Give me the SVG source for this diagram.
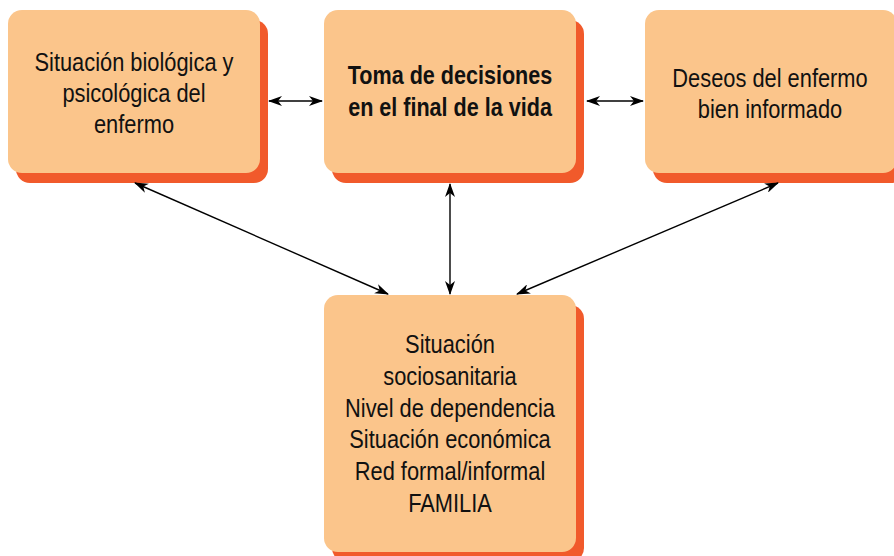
<svg xmlns="http://www.w3.org/2000/svg" width="894" height="556" viewBox="0 0 894 556">
<style>
.box{fill:#FBC58B}
.sh{fill:#F15A2B}
.t{font-family:"Liberation Sans",Arial,sans-serif;font-size:26px;fill:#111;text-anchor:middle}
.b{font-weight:bold}
.c{stroke:#000;stroke-width:1.4;fill:none;marker-start:url(#ah);marker-end:url(#ah)}
</style>
<defs>
<marker id="ah" viewBox="0 0 14 10" refX="13" refY="5" markerWidth="14" markerHeight="10" markerUnits="userSpaceOnUse" orient="auto-start-reverse">
<path d="M0,0 L14,5 L0,10 L4,5 Z" fill="#000"/>
</marker>
</defs>
<rect width="894" height="556" fill="#fff"/>
<g id="node-bio">
<rect class="sh" x="16" y="20" width="252" height="163" rx="14"/>
<rect class="box" x="8" y="10" width="252" height="163" rx="14"/>
<g transform="translate(134,0) scale(0.84,1)">
<text class="t" x="0" y="71">Situación biológica y</text>
<text class="t" x="0" y="102">psicológica del</text>
<text class="t" x="0" y="133">enfermo</text>
</g>
</g>
<g id="node-toma">
<rect class="sh" x="332" y="20" width="252" height="163" rx="14"/>
<rect class="box" x="324" y="10" width="252" height="163" rx="14"/>
<g transform="translate(450,0) scale(0.83,1)">
<text class="t b" x="0" y="84">Toma de decisiones</text>
<text class="t b" x="0" y="116">en el final de la vida</text>
</g>
</g>
<g id="node-deseos">
<rect class="sh" x="653" y="20" width="252" height="163" rx="14"/>
<rect class="box" x="645" y="10" width="252" height="163" rx="14"/>
<g transform="translate(770,0) scale(0.84,1)">
<text class="t" x="0" y="87">Deseos del enfermo</text>
<text class="t" x="0" y="118">bien informado</text>
</g>
</g>
<g id="node-socio">
<rect class="sh" x="332" y="305" width="252" height="257" rx="14"/>
<rect class="box" x="324" y="295" width="252" height="257" rx="14"/>
<g transform="translate(450,0) scale(0.84,1)">
<text class="t" x="0" y="353">Situación</text>
<text class="t" x="0" y="385">sociosanitaria</text>
<text class="t" x="0" y="417">Nivel de dependencia</text>
<text class="t" x="0" y="448">Situación económica</text>
<text class="t" x="0" y="480">Red formal/informal</text>
<text class="t" x="0" y="512">FAMILIA</text>
</g>
</g>
<g id="connectors">
<line class="c" x1="269" y1="101" x2="322" y2="101"/>
<line class="c" x1="587" y1="101" x2="643" y2="101"/>
<line class="c" x1="135" y1="183" x2="388" y2="294"/>
<line class="c" x1="450" y1="184" x2="450" y2="294"/>
<line class="c" x1="778" y1="183" x2="517" y2="294"/>
</g>
</svg>
